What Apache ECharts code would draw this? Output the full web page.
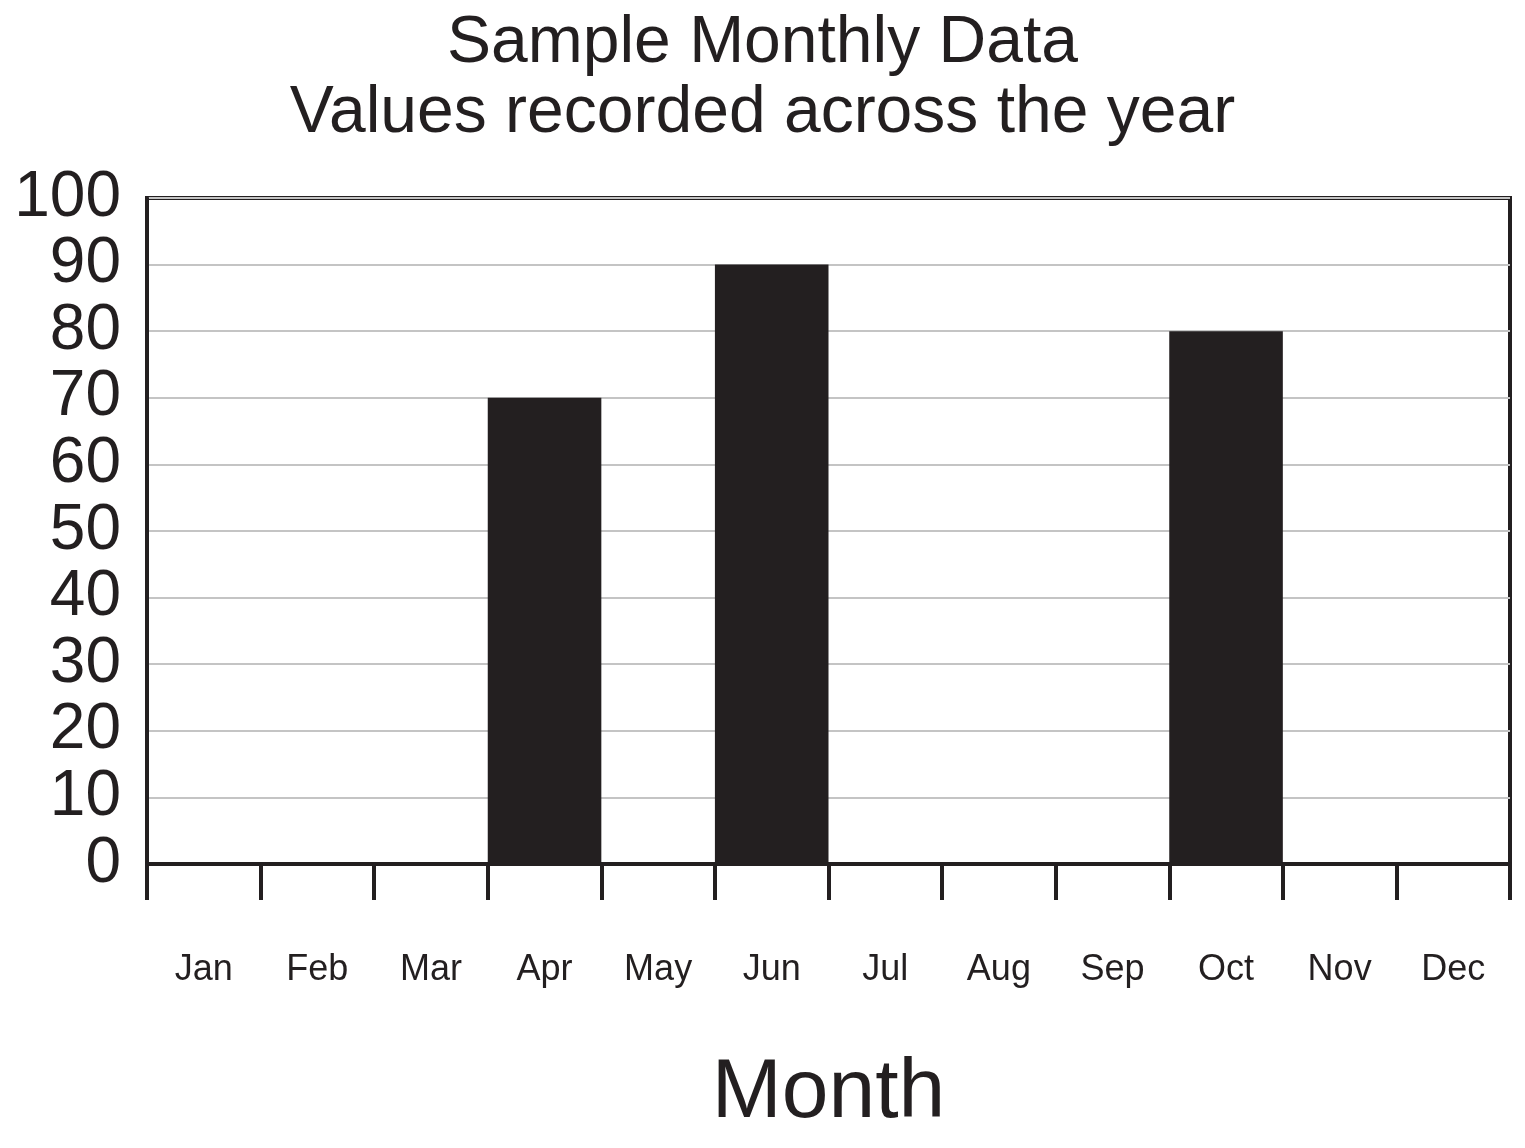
<!DOCTYPE html>
<html>
<head>
<meta charset="utf-8">
<script src="https://cdn.jsdelivr.net/npm/echarts@6/dist/echarts.min.js"></script>
<style>
html,body{margin:0;padding:0;background:#fff;}
#chart{width:1525px;height:1148px;}
</style>
</head>
<body>
<div id="chart"></div>
<script>
var titleText = "Sample Monthly Data\nValues recorded across the year";
var xAxisName = "Month";
var categories = ["Jan","Feb","Mar","Apr","May","Jun","Jul","Aug","Sep","Oct","Nov","Dec"];
var values = [0, 0, 0, 70, 0, 90, 0, 0, 0, 80, 0, 0];
var yTicks = [0, 10, 20, 30, 40, 50, 60, 70, 80, 90, 100];

var FONT = "Liberation Sans";
var INK = "#231f20";

var chart = echarts.init(document.getElementById('chart'), null, {renderer:'canvas'});
chart.setOption({
  animation: false,
  backgroundColor: '#ffffff',
  title: {
    text: titleText,
    left: 'center',
    top: 4,
    textStyle: {fontFamily: FONT, fontSize: 66, fontWeight: 'normal', color: INK, lineHeight: 70}
  },
  grid: {
    left: 147, right: 15, top: 198, bottom: 284,
    show: true, borderColor: INK, borderWidth: 4, backgroundColor: 'transparent'
  },
  xAxis: {
    type: 'category',
    data: categories,
    name: xAxisName,
    nameLocation: 'middle',
    nameGap: 188,
    nameTextStyle: {fontFamily: FONT, fontSize: 84, color: INK},
    axisLine: {show: true, lineStyle: {color: INK, width: 4}},
    axisTick: {show: true, length: 36, lineStyle: {color: INK, width: 4}, alignWithLabel: false},
    axisLabel: {fontFamily: FONT, fontSize: 36, color: INK, margin: 88},
    splitLine: {show: false}
  },
  yAxis: {
    type: 'value',
    min: yTicks[0],
    max: yTicks[yTicks.length - 1],
    interval: 10,
    axisLine: {show: true, lineStyle: {color: INK, width: 4}},
    axisTick: {show: false},
    axisLabel: {fontFamily: FONT, fontSize: 64, color: INK, margin: 26},
    splitLine: {show: true, lineStyle: {color: '#c4c4c4', width: 2}}
  },
  series: [{
    type: 'bar',
    data: values,
    barCategoryGap: '0%',
    itemStyle: {color: INK},
    z: 1
  }]
});
</script>
</body>
</html>
